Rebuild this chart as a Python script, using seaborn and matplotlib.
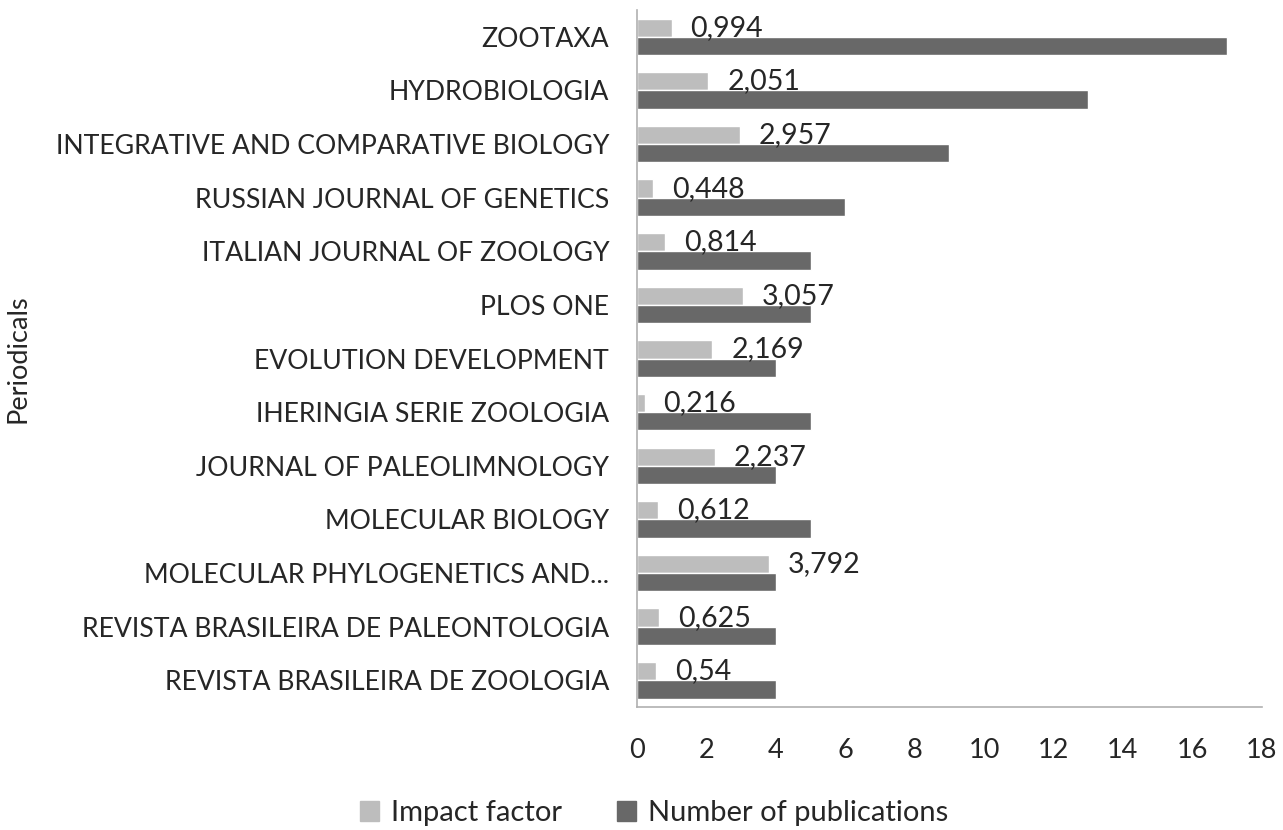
import numpy as np
import pandas as pd
import matplotlib
matplotlib.use('Agg')
import matplotlib.pyplot as plt
import seaborn as sns

# Dados ======================================================================================
journals = ['ZOOTAXA', 'HYDROBIOLOGIA', 'INTEGRATIVE AND COMPARATIVE BIOLOGY',
            'RUSSIAN JOURNAL OF GENETICS', 'ITALIAN JOURNAL OF ZOOLOGY', 'PLOS ONE',
            'EVOLUTION DEVELOPMENT', 'IHERINGIA SERIE ZOOLOGIA', 'JOURNAL OF PALEOLIMNOLOGY',
            'MOLECULAR BIOLOGY', 'MOLECULAR PHYLOGENETICS AND...',
            'REVISTA BRASILEIRA DE PALEONTOLOGIA', 'REVISTA BRASILEIRA DE ZOOLOGIA']
impact_factor = [0.994, 2.051, 2.957, 0.448, 0.814, 3.057, 2.169, 0.216, 2.237, 0.612, 3.792, 0.625, 0.54]
n_publications = [17, 13, 9, 6, 5, 5, 4, 5, 4, 5, 4, 4, 4]
series = ['Impact factor', 'Number of publications']

df = pd.concat([
    pd.DataFrame({'journal': journals, 'value': impact_factor, 'series': series[0]}),
    pd.DataFrame({'journal': journals, 'value': n_publications, 'series': series[1]}),
])

# Figura =====================================================================================
sns.set_style('white')
plt.rcParams['font.family'] = ['Lato', 'DejaVu Sans']

fig = plt.figure(figsize=(12.83, 8.3), dpi=100)
ax = fig.add_axes([0.4965, 0.148, 0.487, 0.840])

sns.barplot(data=df, y='journal', x='value', hue='series', hue_order=series,
            order=journals, palette=['#bdbdbd', '#686868'], width=0.68, gap=0,
            orient='h', ax=ax, legend=False, saturation=1)

# rotulos do fator de impacto
for i, v in enumerate(impact_factor):
    ax.text(v + 0.55, i - 0.17, str(v).replace('.', ','), ha='left', va='center',
            fontsize=20.5, color='#262626')

ax.set_xlim(0, 18)
ax.set_xticks(np.arange(0, 19, 2))
ax.tick_params(axis='x', length=0, labelsize=19.5, colors='#262626', pad=22)
ax.tick_params(axis='y', length=0, labelsize=19.2, colors='#262626', pad=20)
ax.set_xlabel('')
ax.set_ylabel('Periodicals', fontsize=19.5, color='#262626')
ax.yaxis.set_label_coords(-0.97, 0.5)
for s in ['top', 'right']:
    ax.spines[s].set_visible(False)
for s in ['left', 'bottom']:
    ax.spines[s].set_color('#b0b0b0')
    ax.spines[s].set_linewidth(1.2)

handles = [plt.Rectangle((0, 0), 1, 1, color=c) for c in ['#bdbdbd', '#686868']]
fig.legend(handles, series, loc='center', bbox_to_anchor=(0.51, 0.02), ncol=2,
           frameon=False, fontsize=21, handlelength=0.65, handleheight=0.65,
           handletextpad=0.4, columnspacing=1.9, labelcolor='#262626')

plt.savefig('out.png', dpi=100)
